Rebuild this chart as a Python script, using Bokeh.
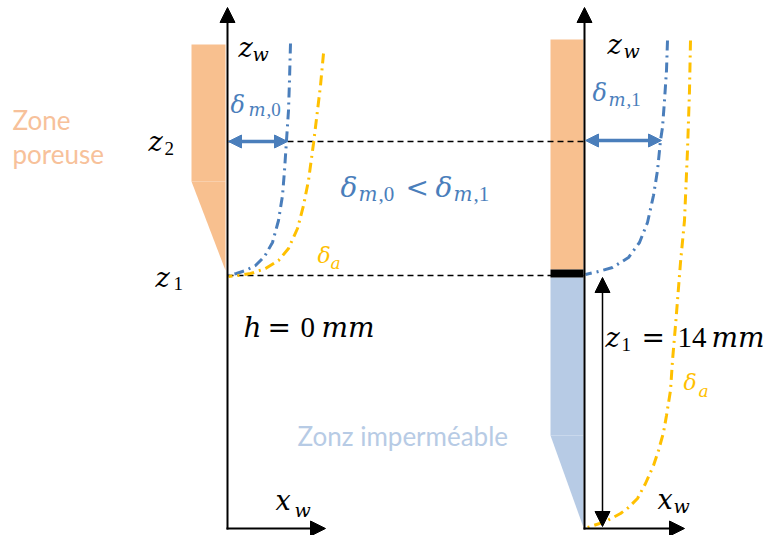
from bokeh.plotting import figure
from bokeh.models import Range1d, Arrow, NormalHead, ColumnDataSource
from bokeh.embed import file_html
from bokeh.resources import INLINE

# ---- diagram geometry (reference pixel coordinates, z grows downward) ----
left_axis_x = 227
right_axis_x = 584
axis_bottom = 528
axis_top = 7
left_xaxis_end = 325
right_xaxis_end = 684

z2_level = 141
z1_level = 275

# curves: boundary layer thickness delta_m (blue) and delta_a (yellow)
left_dm_x = [290, 289, 288, 286, 284, 282, 278, 272, 264, 255, 245, 236, 228]
left_dm_z = [43, 80, 110, 140, 170, 195, 220, 242, 256, 265, 270, 273, 275]
left_da_x = [323, 320, 317, 313, 308, 303, 297, 288, 278, 265, 250, 238, 228]
left_da_z = [53, 85, 110, 143, 180, 205, 228, 248, 260, 268, 273, 275, 276]
right_dm_x = [667, 666, 664, 662, 660, 657, 653, 647, 639, 628, 612, 598, 585]
right_dm_z = [40, 70, 100, 127, 140, 170, 195, 222, 242, 257, 267, 271, 274]
right_da_x = [690, 689, 687, 684, 680, 677, 675, 672, 670, 666, 663, 658, 653, 645, 637, 628, 620, 605, 587]
right_da_z = [40, 90, 150, 220, 262, 300, 325, 360, 390, 415, 432, 450, 465, 483, 498, 507, 513, 521, 527]

# zones
left_porous_rect = dict(left=191, right=225, top=44, bottom=181)
left_porous_tri_x = [191, 225, 225]
left_porous_tri_z = [181, 181, 270]
right_porous_rect = dict(left=550, right=583, top=39, bottom=269)
right_bar_rect = dict(left=550, right=583, top=269, bottom=277)
right_imp_rect = dict(left=550, right=583, top=277, bottom=435)
right_imp_tri_x = [550, 583, 583]
right_imp_tri_z = [435, 435, 527]

BLUE = "#4a7ebb"
YELLOW = "#ffc000"
ORANGE = "#f8c08f"
ORANGE_TXT = "#f7c19a"
LBLUE = "#b7cbe5"
MATH = "DejaVu Serif"
NUM = "Liberation Serif"
SANS = "Lato"

# text pieces: text, x(left), baseline, size, font, style, color
labels = [
    ("z", 238, 55, 27, MATH, "italic", "black"), ("w", 252, 61, 19, MATH, "italic", "black"),
    ("δ", 230, 112, 24, MATH, "italic", BLUE), ("m", 248, 117, 18, MATH, "italic", BLUE),
    (",0", 266, 117, 19, NUM, "normal", BLUE),
    ("z", 148, 149, 27, MATH, "italic", "black"), ("2", 164, 156, 19, NUM, "normal", "black"),
    ("z", 155, 285, 27, MATH, "italic", "black"), ("1", 173, 291, 19, NUM, "normal", "black"),
    ("Zone", 12, 127, 26, SANS, "normal", ORANGE_TXT), ("poreuse", 12, 161, 26, SANS, "normal", ORANGE_TXT),
    ("δ", 340, 195, 28, MATH, "italic", BLUE), ("m", 358, 201, 20, MATH, "italic", BLUE),
    (",0", 378, 201, 21, NUM, "normal", BLUE), ("<", 405, 195, 28, MATH, "normal", BLUE),
    ("δ", 435, 195, 28, MATH, "italic", BLUE), ("m", 453, 201, 20, MATH, "italic", BLUE),
    (",1", 473, 201, 21, NUM, "normal", BLUE),
    ("δ", 317, 263, 22, MATH, "italic", YELLOW), ("a", 330, 270, 17, MATH, "italic", YELLOW),
    ("h", 243, 335, 28, MATH, "italic", "black"), ("=", 267, 335, 28, MATH, "normal", "black"),
    ("0", 300, 335, 29, NUM, "normal", "black"), ("mm", 321, 335, 28, MATH, "italic", "black"),
    ("Zonz imperméable", 297, 443, 26, SANS, "normal", LBLUE),
    ("x", 275, 508, 27, MATH, "italic", "black"), ("w", 294, 517, 19, MATH, "italic", "black"),
    ("z", 607, 52, 27, MATH, "italic", "black"), ("w", 623, 58, 19, MATH, "italic", "black"),
    ("δ", 592, 100, 24, MATH, "italic", BLUE), ("m", 608, 107, 18, MATH, "italic", BLUE),
    (",1", 626, 107, 19, NUM, "normal", BLUE),
    ("z", 605, 345, 27, MATH, "italic", "black"), ("1", 621, 352, 19, NUM, "normal", "black"),
    ("=", 641, 345, 28, MATH, "normal", "black"), ("14", 677, 345, 29, NUM, "normal", "black"),
    ("mm", 711, 345, 28, MATH, "italic", "black"),
    ("δ", 683, 390, 22, MATH, "italic", YELLOW), ("a", 698, 398, 17, MATH, "italic", YELLOW),
    ("x", 657, 507, 27, MATH, "italic", "black"), ("w", 673, 513, 19, MATH, "italic", "black"),
]
TEXT_SHIFT = 8  # renderer baseline correction, pixels

W, H = 770, 535
p = figure(width=W, height=H, output_backend="svg", toolbar_location=None,
           x_range=Range1d(0, W), y_range=Range1d(H, 0),
           x_axis_location=None, y_axis_location=None, min_border=0,
           tools="")
p.grid.visible = False
p.outline_line_color = None
p.background_fill_color = "white"

# zones
for r, c in [(left_porous_rect, ORANGE), (right_porous_rect, ORANGE),
             (right_imp_rect, LBLUE), (right_bar_rect, "black")]:
    p.quad(left=[r["left"]], right=[r["right"]], top=[r["top"]], bottom=[r["bottom"]],
           fill_color=c, line_color=None)
p.patch(left_porous_tri_x, left_porous_tri_z, fill_color=ORANGE, line_color=None)
p.patch(right_imp_tri_x, right_imp_tri_z, fill_color=LBLUE, line_color=None)

# dashed reference levels
for lvl in (z2_level, z1_level):
    p.line([left_axis_x, right_axis_x], [lvl, lvl], line_color="black", line_width=1.5,
           line_dash="6 4")

# curves
DASH = "10 5 2 5"
p.line(left_dm_x, left_dm_z, line_color=BLUE, line_width=3, line_dash=DASH)
p.line(left_da_x, left_da_z, line_color=YELLOW, line_width=3, line_dash=DASH)
p.line(right_dm_x, right_dm_z, line_color=BLUE, line_width=3, line_dash=DASH)
p.line(right_da_x, right_da_z, line_color=YELLOW, line_width=3, line_dash=DASH)

def arrow(x0, y0, x1, y1, color, lw, size, both=False):
    head = NormalHead(size=size, fill_color=color, line_color=color, line_width=1)
    kw = {}
    if both:
        kw["start"] = NormalHead(size=size, fill_color=color, line_color=color, line_width=1)
    p.add_layout(Arrow(x_start=x0, y_start=y0, x_end=x1, y_end=y1, end=head,
                       line_color=color, line_width=lw, **kw))

for ax, xend in [(left_axis_x, left_xaxis_end), (right_axis_x, right_xaxis_end)]:
    arrow(ax, axis_bottom + 1, ax, axis_top, "black", 2, 15)
    arrow(ax - 1, axis_bottom, xend, axis_bottom, "black", 2, 15)

# delta_m double arrows
arrow(228, z2_level, 287, z2_level, BLUE, 3.5, 13, both=True)
arrow(585, z2_level - 1, 661, z2_level - 1, BLUE, 3.5, 13, both=True)
# z1 height arrow
arrow(602, 526, 602, 277, "black", 1.5, 15, both=True)

src = ColumnDataSource(dict(
    text=[l[0] for l in labels], x=[l[1] for l in labels],
    y=[l[2] - TEXT_SHIFT for l in labels],
    size=[f"{l[3]}px" for l in labels], font=[l[4] for l in labels],
    style=[l[5] for l in labels], color=[l[6] for l in labels]))
p.text(x="x", y="y", text="text", source=src, text_font_size="size", text_font="font",
       text_font_style="style", text_color="color", text_baseline="alphabetic",
       text_align="left")

open("out.html", "w").write(file_html(p, INLINE))
